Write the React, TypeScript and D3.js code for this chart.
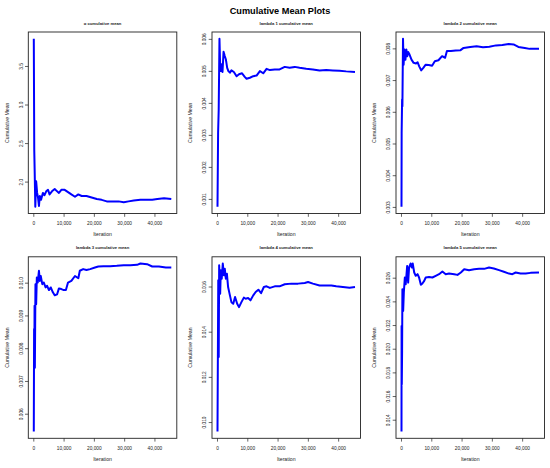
import React from 'react'
import * as d3 from 'd3'

// number of MCMC iterations (same for every panel)
const nIter = 45400
const xTicks = [0, 10000, 20000, 30000, 40000]

const alphaIter = [1, 150, 300, 500, 780, 1100, 1400, 1700, 2000, 2400, 3000, 3500, 4100, 4700, 5200, 6000, 6900, 7700, 8300, 9100, 10200, 11300, 12400, 13600, 14700, 15800, 17400, 19100, 20800, 22400, 24100, 26300, 28000, 29700, 31300, 33000, 35200, 37400, 39100, 40800, 43000, 45400]
const alphaMean = [3.86, 2.42, 2.12, 1.68, 2.01, 1.86, 1.8, 1.69, 1.82, 1.77, 1.86, 1.83, 1.88, 1.9, 1.84, 1.88, 1.91, 1.88, 1.86, 1.9, 1.9, 1.87, 1.84, 1.81, 1.84, 1.82, 1.82, 1.8, 1.78, 1.77, 1.75, 1.75, 1.75, 1.74, 1.75, 1.76, 1.77, 1.77, 1.77, 1.78, 1.79, 1.78]
const alphaTicks = [2.0, 2.5, 3.0, 3.5]

const lambda1Iter = [1, 200, 400, 650, 880, 1100, 1400, 1650, 2000, 2400, 2750, 3200, 3600, 4100, 4600, 5400, 6300, 7100, 8100, 9000, 9600, 10700, 11800, 12900, 14000, 15100, 16200, 17300, 18900, 20500, 22200, 23800, 25500, 27100, 29300, 31500, 33700, 35900, 38100, 40300, 42500, 45400]
const lambda1Mean = [0.00077, 0.00308, 0.00381, 0.00602, 0.00517, 0.00501, 0.00522, 0.00498, 0.00561, 0.00548, 0.00538, 0.00511, 0.00501, 0.00496, 0.00503, 0.00498, 0.00485, 0.00491, 0.00494, 0.00483, 0.00477, 0.0048, 0.00485, 0.00487, 0.00501, 0.00494, 0.00508, 0.00504, 0.00506, 0.00506, 0.00514, 0.00511, 0.00514, 0.00511, 0.00508, 0.00506, 0.00503, 0.00504, 0.00503, 0.00502, 0.005, 0.00498]
const lambda1Ticks = [0.001, 0.002, 0.003, 0.004, 0.005, 0.006]

const lambda2Iter = [1, 50, 200, 300, 500, 700, 950, 1300, 1600, 1900, 2200, 2650, 3300, 4000, 4800, 5300, 5850, 6500, 7200, 8000, 9000, 10100, 11000, 12200, 13400, 14400, 15000, 16300, 17900, 19500, 20500, 22700, 24800, 26900, 29000, 31200, 33300, 35400, 37000, 38600, 40700, 42300, 45400]
const lambda2Mean = [0.00302, 0.00534, 0.0064, 0.00619, 0.00832, 0.0075, 0.00798, 0.00766, 0.00798, 0.00777, 0.0079, 0.00782, 0.00766, 0.00756, 0.00754, 0.00758, 0.00745, 0.00732, 0.0074, 0.0075, 0.00749, 0.00747, 0.00761, 0.00764, 0.00777, 0.00772, 0.00793, 0.00793, 0.00795, 0.00796, 0.00803, 0.00806, 0.00808, 0.00805, 0.00807, 0.00811, 0.00812, 0.00815, 0.00814, 0.00806, 0.00803, 0.008, 0.008]
const lambda2Ticks = [0.003, 0.004, 0.005, 0.006, 0.007, 0.008]

const lambda3Iter = [1, 100, 200, 250, 350, 550, 780, 1000, 1300, 1700, 2000, 2300, 2800, 3300, 3900, 4400, 5000, 5600, 6300, 6900, 7700, 8300, 9100, 9900, 10600, 11300, 12400, 13600, 14700, 15200, 16300, 17400, 18600, 20200, 21300, 23000, 25200, 27400, 29700, 31900, 34100, 35200, 37400, 39100, 41300, 43600, 45400]
const lambda3Mean = [0.00547, 0.0086, 0.00763, 0.00931, 0.00742, 0.00997, 0.00936, 0.01017, 0.01002, 0.01038, 0.01007, 0.01022, 0.00997, 0.01002, 0.00987, 0.00992, 0.00979, 0.00987, 0.00972, 0.00963, 0.00966, 0.00984, 0.00982, 0.00979, 0.00979, 0.01002, 0.01007, 0.01022, 0.01015, 0.01038, 0.01043, 0.0104, 0.01043, 0.01048, 0.01051, 0.01052, 0.01052, 0.01053, 0.01055, 0.01055, 0.01056, 0.0106, 0.01058, 0.01051, 0.01051, 0.01048, 0.01048]
const lambda3Ticks = [0.006, 0.007, 0.008, 0.009, 0.01]

const lambda4Iter = [1, 250, 400, 550, 880, 1100, 1400, 1750, 2100, 2400, 2750, 3100, 3500, 4100, 4600, 5200, 5800, 6500, 7100, 7900, 8700, 9300, 10100, 10900, 11800, 12600, 13500, 14400, 15300, 16200, 17300, 18900, 20500, 22200, 24400, 26600, 28800, 29900, 31500, 33700, 35400, 37600, 39200, 41400, 43600, 45400]
const lambda4Mean = [0.0096, 0.0163, 0.0129, 0.01696, 0.0157, 0.01674, 0.01637, 0.01704, 0.01652, 0.01681, 0.01637, 0.01659, 0.016, 0.01563, 0.01533, 0.01526, 0.01556, 0.01526, 0.01511, 0.01533, 0.01553, 0.01548, 0.01551, 0.01541, 0.01563, 0.01578, 0.01588, 0.01573, 0.016, 0.01603, 0.01596, 0.01603, 0.01603, 0.01612, 0.01615, 0.01615, 0.01618, 0.01622, 0.01615, 0.01607, 0.01607, 0.01607, 0.01603, 0.016, 0.01597, 0.016]
const lambda4Ticks = [0.01, 0.012, 0.014, 0.016]

const lambda5Iter = [1, 30, 50, 100, 200, 300, 550, 770, 1100, 1400, 1870, 2200, 2500, 3000, 3400, 3700, 4200, 4700, 5300, 5800, 6400, 6900, 7500, 8000, 9100, 10200, 11300, 12400, 13500, 14600, 15700, 17400, 18500, 19600, 20700, 22300, 24000, 25600, 27300, 28900, 30500, 32200, 33800, 35500, 36600, 37700, 39300, 41000, 42600, 45400]
const lambda5Mean = [0.01304, 0.02197, 0.01761, 0.01704, 0.01986, 0.02507, 0.02324, 0.02479, 0.02606, 0.02549, 0.02704, 0.02563, 0.0269, 0.02724, 0.0269, 0.02724, 0.02648, 0.0262, 0.02634, 0.02606, 0.02544, 0.02555, 0.02577, 0.02606, 0.02611, 0.02606, 0.0262, 0.02634, 0.02656, 0.02634, 0.02639, 0.02634, 0.02628, 0.02648, 0.02676, 0.02668, 0.02676, 0.02679, 0.02679, 0.0269, 0.02682, 0.02668, 0.02654, 0.02639, 0.02634, 0.02648, 0.02639, 0.02639, 0.02645, 0.02648]
const lambda5Ticks = [0.014, 0.016, 0.018, 0.02, 0.022, 0.024, 0.026]

const titles = ['α cumulative mean', 'lambda 1 cumulative mean', 'lambda 2 cumulative mean', 'lambda 3 cumulative mean', 'lambda 4 cumulative mean', 'lambda 5 cumulative mean']

const FONT = '"Liberation Sans", Arial, sans-serif'
const INK = '#222'

// plot box geometry (R's mfrow = c(2, 3))
const boxW = 148.5
const boxH = 181.5
const colLeft = [28.3, 212, 396]
const rowTop = [32, 256.8]

interface PanelProps {
    title: string
    xs: number[]
    ys: number[]
    yTicks: number[]
    digits: number
    x0: number
    y0: number
}

const Panel: React.FC<PanelProps> = ({ title, xs, ys, yTicks, digits, x0, y0 }) => {
    // R pads the data range by 4% on each side
    const xPad = 0.04 * (nIter - 1)
    const xScale = d3.scaleLinear().domain([1 - xPad, nIter + xPad]).range([x0, x0 + boxW])
    const [lo, hi] = d3.extent(ys) as [number, number]
    const yPad = (hi - lo) * 0.04
    const yScale = d3.scaleLinear().domain([lo - yPad, hi + yPad]).range([y0 + boxH, y0])

    const pts = d3.zip(xs, ys) as [number, number][]
    const line = d3
        .line<[number, number]>()
        .x((d) => xScale(d[0]))
        .y((d) => yScale(d[1]))

    const fmtX = d3.format(',')
    const fmtY = (v: number) => v.toFixed(digits)
    const bottom = y0 + boxH

    return (
        <g>
            <text x={x0 + boxW / 2} y={y0 - 7.5} textAnchor="middle" fontSize={4.2} fontWeight="bold" fill={INK}>
                {title}
            </text>
            <path d={line(pts)!} fill="none" stroke="#0000ff" strokeWidth={2} strokeLinejoin="round" />
            <rect x={x0} y={y0} width={boxW} height={boxH} fill="none" stroke={INK} strokeWidth={0.9} />
            {xTicks.map((t) => (
                <g key={t}>
                    <line x1={xScale(t)} x2={xScale(t)} y1={bottom} y2={bottom + 3.3} stroke={INK} strokeWidth={0.7} />
                    <text x={xScale(t)} y={bottom + 11.4} textAnchor="middle" fontSize={4.8} fill={INK}>
                        {fmtX(t)}
                    </text>
                </g>
            ))}
            {yTicks.map((t) => (
                <g key={t}>
                    <line x1={x0 - 3.3} x2={x0} y1={yScale(t)} y2={yScale(t)} stroke={INK} strokeWidth={0.7} />
                    <text
                        transform={`translate(${x0 - 5.8},${yScale(t)}) rotate(-90)`}
                        textAnchor="middle"
                        fontSize={4.8}
                        fill={INK}
                    >
                        {fmtY(t)}
                    </text>
                </g>
            ))}
            <text x={x0 + boxW / 2} y={bottom + 22.8} textAnchor="middle" fontSize={5.2} fill={INK}>
                Iteration
            </text>
            <text
                transform={`translate(${x0 - 19.8},${y0 + boxH / 2}) rotate(-90)`}
                textAnchor="middle"
                fontSize={5.2}
                fill={INK}
            >
                Cumulative Mean
            </text>
        </g>
    )
}

export default function App() {
    const series = [
        { xs: alphaIter, ys: alphaMean, ticks: alphaTicks, digits: 1 },
        { xs: lambda1Iter, ys: lambda1Mean, ticks: lambda1Ticks, digits: 3 },
        { xs: lambda2Iter, ys: lambda2Mean, ticks: lambda2Ticks, digits: 3 },
        { xs: lambda3Iter, ys: lambda3Mean, ticks: lambda3Ticks, digits: 3 },
        { xs: lambda4Iter, ys: lambda4Mean, ticks: lambda4Ticks, digits: 3 },
        { xs: lambda5Iter, ys: lambda5Mean, ticks: lambda5Ticks, digits: 3 },
    ]

    return (
        <svg
            width={550}
            height={468}
            style={{ position: 'absolute', left: 0, top: 0, background: '#fff' }}
            fontFamily={FONT}
        >
            <text x={280} y={13.5} textAnchor="middle" fontSize={9.2} fontWeight="bold" fill="#000">
                Cumulative Mean Plots
            </text>
            {series.map((s, i) => (
                <Panel
                    key={i}
                    title={titles[i]}
                    xs={s.xs}
                    ys={s.ys}
                    yTicks={s.ticks}
                    digits={s.digits}
                    x0={colLeft[i % 3]}
                    y0={rowTop[Math.floor(i / 3)]}
                />
            ))}
        </svg>
    )
}
